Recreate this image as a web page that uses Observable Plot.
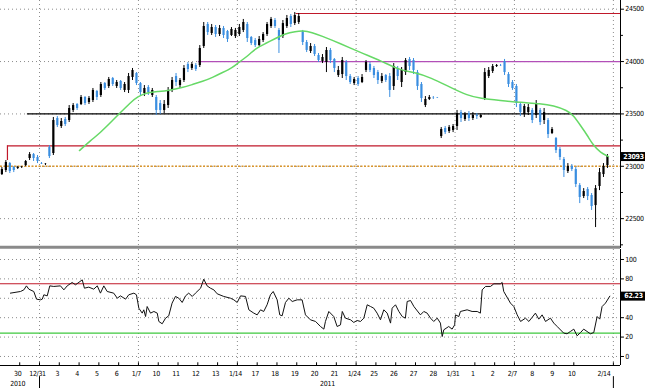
<!DOCTYPE html>
<html><head><meta charset="utf-8">
<script src="https://cdn.jsdelivr.net/npm/d3@7"></script>
<script src="https://cdn.jsdelivr.net/npm/@observablehq/plot@0.6"></script>
<style>
html,body{margin:0;padding:0;background:#fff;}
#chart svg{display:block;}
</style></head><body><div id="chart"></div>
<script>
// ---- data (time axis: trading days since 12/31/2010) ----
const barStart = -1.9, barStep = 0.2;
const open = [22921,22960,23026,22988,22979,22988,23007,23074,23112,23084,23026,23017,23179,23122,23456,23380,23447,23437,23533,23590,23590,23657,23609,23628,23714,23676,23790,23762,23838,23762,23810,23724,23724,23848,23886,23790,23695,23752,23676,23657,23599,23533,23580,23724,23857,23771,23819,23972,23934,23962,23962,24144,24354,24268,24325,24258,24316,24287,24249,24239,24258,24297,24354,24230,24201,24153,24201,24258,24335,24392,24297,24239,24335,24430,24363,24373,24287,24182,24096,24144,24058,24001,23991,24106,24020,23867,23876,23991,23857,23790,23838,23800,23915,23972,23934,23895,23810,23867,23857,23762,23934,23800,23895,24020,24010,23895,23781,23580,23638,23657,23657,23284,23361,23332,23342,23380,23513,23447,23504,23456,23485,23466,23647,23857,23905,23953,23962,24001,23876,23800,23762,23590,23494,23513,23533,23485,23533,23437,23437,23313,23265,23160,23065,22950,22998,22969,22816,22711,22778,22721,22625,22807,22921,23007];
const high = [22988,23055,23036,22998,22998,22998,23055,23131,23122,23103,23036,23026,23198,23466,23475,23456,23466,23580,23599,23599,23676,23666,23666,23743,23724,23800,23800,23848,23848,23819,23819,23800,23886,23934,23895,23800,23771,23771,23743,23676,23628,23628,23752,23848,23886,23838,23962,23991,23991,23981,24153,24373,24373,24354,24344,24344,24335,24297,24325,24316,24354,24402,24373,24239,24220,24239,24277,24373,24421,24411,24316,24392,24440,24449,24468,24459,24297,24201,24172,24163,24077,24067,24134,24125,24029,23953,24039,24010,23876,23848,23857,23876,24010,23991,23953,23915,23886,23876,23886,23981,23953,23943,24029,24039,24029,23915,23800,23666,23676,23666,23657,23370,23380,23389,23399,23533,23533,23513,23523,23513,23504,23494,23934,23943,23972,23972,23972,24020,23895,23819,23781,23609,23590,23590,23552,23628,23552,23552,23456,23370,23275,23179,23084,23026,23017,22988,22835,22787,22797,22740,22816,22979,23026,23112];
const low = [22912,22940,22931,22940,22969,22979,22998,23055,23046,23026,23017,23007,23074,23103,23370,23361,23380,23418,23513,23533,23580,23580,23590,23609,23628,23657,23724,23743,23762,23743,23724,23704,23695,23819,23771,23676,23666,23676,23657,23485,23494,23504,23552,23704,23762,23743,23800,23895,23915,23905,23943,24125,24249,24249,24230,24239,24220,24182,24239,24220,24239,24277,24182,24153,24134,24144,24182,24239,24316,24316,24077,24220,24316,24325,24344,24354,24153,24086,24077,24048,23991,23981,23895,23981,23895,23848,23838,23819,23781,23771,23762,23790,23895,23895,23838,23781,23790,23800,23657,23724,23819,23752,23867,23915,23876,23724,23609,23561,23628,23638,23647,23265,23303,23313,23322,23342,23418,23428,23428,23437,23447,23456,23628,23838,23886,23943,23953,23867,23752,23724,23561,23475,23466,23485,23408,23456,23389,23399,23265,23303,23122,23055,22893,22931,22950,22797,22644,22692,22673,22578,22415,22768,22893,22979];
const close = [22969,23036,22950,22960,22988,22990,23046,23112,23074,23046,23022,23020,23093,23437,23389,23428,23399,23552,23580,23552,23657,23599,23647,23724,23657,23781,23743,23829,23781,23800,23743,23781,23857,23915,23790,23704,23743,23704,23724,23533,23533,23590,23724,23819,23800,23819,23934,23924,23972,23924,24125,24335,24277,24325,24258,24316,24249,24211,24306,24297,24325,24373,24220,24172,24153,24211,24258,24354,24402,24335,24201,24363,24411,24354,24440,24430,24182,24106,24144,24067,24010,24039,24106,24010,23934,23915,24010,23857,23800,23829,23781,23848,23991,23915,23867,23819,23857,23819,23724,23953,23857,23915,24010,23953,23915,23762,23647,23638,23657,23655,23655,23351,23322,23370,23380,23504,23456,23494,23456,23485,23475,23485,23895,23915,23953,23962,23960,23895,23781,23743,23599,23513,23571,23561,23437,23599,23418,23513,23303,23351,23150,23084,22960,22998,22969,22826,22702,22759,22711,22616,22787,22940,22998,23093];
const maT = [2.02,2.58,3.08,3.59,4.09,4.60,4.95,5.46,5.96,6.52,7.23,7.73,8.24,8.74,9.25,9.75,10.06,10.56,10.91,11.42,11.92,12.43,12.94,13.29,13.79,14.20,15.21,16.22,17.23,18.24,19.00,19.76,20.77,21.63,22.28,23.29,24.31,25.32,25.97,26.68,26.98,27.34,27.69,27.99,28.35,28.75];
const maV = [23150,23246,23322,23418,23513,23609,23666,23704,23714,23724,23752,23781,23810,23848,23895,23943,23991,24058,24125,24172,24220,24268,24287,24297,24277,24249,24172,24086,24010,23915,23895,23848,23752,23676,23647,23628,23609,23599,23580,23533,23485,23389,23294,23198,23131,23093];
const rsiT = [-1.47,-0.96,-0.79,-0.66,-0.54,-0.29,-0.15,0.05,0.14,0.22,0.39,0.52,0.72,1.06,1.23,1.40,1.65,1.82,2.16,2.27,2.49,2.74,2.92,3.08,3.25,3.42,3.75,3.93,4.09,4.35,4.51,4.77,4.90,5.02,5.19,5.27,5.36,5.44,5.61,5.78,5.95,6.03,6.20,6.37,6.53,6.70,6.87,7.04,7.21,7.38,7.54,7.72,7.88,8.14,8.30,8.47,8.64,8.81,8.98,9.31,9.65,9.82,9.99,10.16,10.41,10.58,10.83,11.00,11.17,11.33,11.50,11.67,11.81,12.01,12.14,12.26,12.43,12.60,12.77,13.02,13.27,13.44,13.69,13.95,14.20,14.37,14.45,14.62,14.87,15.04,15.21,15.30,15.46,15.72,15.88,16.05,16.22,16.39,16.56,16.73,16.89,17.06,17.23,17.40,17.57,17.74,17.82,17.99,18.16,18.33,18.49,18.58,18.75,18.92,19.25,19.42,19.59,19.76,19.92,20.10,20.26,20.35,20.43,20.68,20.85,20.98,21.02,21.19,21.27,21.61,21.86,22.12,22.28,22.37,22.54,22.79,22.96,23.29,23.38,23.46,23.80,23.97,24.14,24.31,24.56,24.73,24.90,25.06,25.23,25.40,25.57,25.82,25.99,26.16,26.49,26.66,26.83,27.00,27.17,27.34,27.50,27.67,27.84,28.01,28.18,28.31,28.43,28.60,28.82];
const rsiV = [65.3,67.0,68.7,72.8,69.4,67.0,59.1,58.4,59.1,63.6,62.5,72.8,72.2,72.8,68.7,72.8,76.3,73.9,79.0,70.4,71.5,69.4,72.8,65.3,72.8,67.0,65.3,60.1,62.5,59.1,63.6,65.3,63.6,49.8,44.7,48.1,41.2,51.5,44.7,46.4,44.7,36.1,33.7,39.5,41.9,55.0,61.9,60.1,55.7,62.5,65.3,61.9,65.3,70.4,79.7,72.8,70.4,68.7,64.6,61.9,60.1,58.4,55.7,62.5,61.9,48.1,44.7,42.9,48.1,46.4,53.3,63.6,67.0,58.4,42.9,41.9,55.7,60.1,56.7,58.4,58.4,42.9,37.8,36.1,30.9,28.2,36.1,46.4,41.2,30.9,32.6,46.4,39.5,37.8,35.1,37.1,36.1,39.5,53.3,51.5,49.8,44.7,37.8,48.1,44.7,34.4,49.8,53.3,46.4,41.2,39.5,56.7,57.7,51.5,42.9,46.4,44.7,39.5,36.1,39.5,34.4,20.6,27.5,30.9,28.2,32.6,42.9,41.2,46.4,48.1,46.4,46.4,44.7,68.7,72.2,72.2,74.9,74.9,76.3,67.0,55.0,51.5,42.9,36.1,39.5,36.1,40.5,44.7,38.5,42.9,36.1,39.5,34.4,30.9,24.1,23.4,25.8,28.2,21.3,24.7,28.2,25.8,23.4,24.7,41.2,38.5,51.5,55.0,62.2];
const dayLabels = ["30","12/31","3","4","5","6","1/7","10","11","12","13","1/14","17","18","19","20","21","1/24","25","26","27","28","1/31","1","2","2/7","8","9","10","2/14"];
const dayPos = [-1,0,1,2,3,4,5,6,7,8,9,10,11,12,13,14,15,16,17,18,19,20,21,22,23,24,25,26,27,29];
const yearLabels = ["2010","2011"];
const yearPos = [-1.1, 14.55];
const yearBreaks = [0, 29];
const weekStarts = [0,5,10,16,21,24,29];
const priceTicks = [22500,23000,23500,24000,24500];
const priceMinor = [22250,22750,23250,23750,24250];
const rsiTicks = [0,20,40,60,80,100];
const rsiTickLabels = [0,20,40,80,100]; // 60 sits under the value box
const lastPrice = 23093, lastRsi = 62.23;
const levelHigh = 24459, levelHighFrom = 12.97;
const level24000 = 24000, level24000From = 8.03;
const level23500 = 23500, level23500From = -0.61;
const levelLow = 23194, levelLowFrom = -1.62, levelLowFoot = 23055;
const level23000 = 23000;
const rsiUpper = 75, rsiLower = 24;

// ---- build ----
const xMin = -1.971, xMax = 29.36;
const BLUE = "#3a8ee0", RED = "#c0182a", GRID = "#8c8c8c";
const font = {fontFamily: "'DejaVu Sans Condensed','Liberation Sans Narrow',sans-serif", fontSize: "7px", letterSpacing: "-0.3px", background: "white", overflow: "visible"};
const bars = open.map((o, i) => ({t: barStart + barStep * i, o, h: high[i], l: low[i], c: close[i]}));
const ma = maT.map((t, i) => ({t, v: maV[i]}));
const rsi = rsiT.map((t, i) => ({t, v: rsiV[i]}));
const barColor = d => d.c >= d.o ? "#000" : BLUE;

const main = Plot.plot({
  width: 645, height: 248, marginLeft: 0, marginRight: 25, marginTop: 0, marginBottom: 0,
  x: {domain: [xMin, xMax], axis: null},
  y: {domain: [22215, 24583], axis: null},
  style: font,
  marks: [
    Plot.ruleY(priceTicks, {x1: xMin, x2: xMax, stroke: GRID, strokeDasharray: "1,3"}),
    Plot.ruleX(weekStarts, {stroke: GRID, strokeDasharray: "1,3"}),
    Plot.ruleY([level23000], {x1: xMin, x2: xMax, stroke: "#d9962e", strokeWidth: 1.5, strokeDasharray: "2,1.5"}),
    Plot.ruleY([levelLow], {x1: levelLowFrom, x2: xMax, stroke: RED, strokeWidth: 1.2}),
    Plot.ruleX([levelLowFrom], {y1: levelLowFoot, y2: levelLow, stroke: RED, strokeWidth: 1.2}),
    Plot.ruleY([level23500], {x1: level23500From, x2: xMax, stroke: "#000", strokeWidth: 1.3}),
    Plot.ruleY([level24000], {x1: level24000From, x2: xMax, stroke: "#b24fb8", strokeWidth: 1.2}),
    Plot.ruleY([levelHigh], {x1: levelHighFrom, x2: xMax, stroke: RED, strokeWidth: 1.2}),
    Plot.ruleX(bars, {x: "t", y1: "l", y2: "h", stroke: barColor, strokeWidth: 1}),
    Plot.ruleX(bars, {x: "t", y1: "o", y2: "c", stroke: barColor, strokeWidth: 2.2}),
    Plot.line(ma, {x: "t", y: "v", stroke: "#66d966", strokeWidth: 1.5, curve: "basis"}),
    Plot.ruleY([22227], {x1: xMin, x2: xMax, stroke: "#8a8a8a", strokeWidth: 3}),
    Plot.ruleX([xMax], {stroke: "#000"}),
    Plot.ruleY(priceTicks, {x1: xMax, x2: xMax + 0.2, stroke: "#000"}),
    Plot.ruleY(priceMinor, {x1: xMax, x2: xMax + 0.15, stroke: "#000"}),
    Plot.text(priceTicks, {x: () => xMax + 0.24, y: d => d, text: d => String(d), textAnchor: "start", fill: "#000"}),
    Plot.ruleY([lastPrice], {x1: xMax + 0.05, x2: xMax + 1.27, stroke: "#000", strokeWidth: 9}),
    Plot.text([lastPrice], {x: () => xMax + 0.66, y: d => d, text: d => String(d), fill: "#fff", fontWeight: "bold", fontSize: 7})
  ]
});

const rsiPlot = Plot.plot({
  width: 645, height: 140, marginLeft: 0, marginRight: 25, marginTop: 1, marginBottom: 23,
  x: {domain: [xMin, xMax], axis: null},
  y: {domain: [-9.3, 110.3], axis: null},
  style: font,
  marks: [
    Plot.ruleY(rsiTicks, {x1: xMin, x2: xMax, stroke: GRID, strokeDasharray: "1,3"}),
    Plot.ruleX(weekStarts, {stroke: GRID, strokeDasharray: "1,3"}),
    Plot.ruleY([rsiUpper], {x1: xMin, x2: xMax, stroke: RED, strokeWidth: 1.2}),
    Plot.ruleY([rsiLower], {x1: xMin, x2: xMax, stroke: "#3ec83e", strokeWidth: 1.2}),
    Plot.line(rsi, {x: "t", y: "v", stroke: "#111", strokeWidth: 1}),
    Plot.ruleY([-9.3], {x1: xMin, x2: xMax, stroke: "#000"}),
    Plot.ruleX(dayPos, {y1: -9.3, y2: -6.5, stroke: "#000"}),
    Plot.ruleX([xMax], {y1: -9.3, y2: 110.3, stroke: "#000"}),
    Plot.ruleY(rsiTicks, {x1: xMax, x2: xMax + 0.2, stroke: "#000"}),
    Plot.text(rsiTickLabels, {x: () => xMax + 0.24, y: d => d, text: d => String(d), textAnchor: "start", fill: "#000"}),
    Plot.ruleY([lastRsi], {x1: xMax + 0.05, x2: xMax + 1.27, stroke: "#000", strokeWidth: 9}),
    Plot.text([lastRsi], {x: () => xMax + 0.66, y: d => d, text: d => d.toFixed(2), fill: "#fff", fontWeight: "bold", fontSize: 7}),
    Plot.text(dayPos.slice(0, -1), {x: d => d, y: () => -17.6, text: (d, i) => dayLabels[i], dx: -2, fill: "#000"}),
    Plot.text(dayPos.slice(-1), {x: d => d, y: () => -17.6, text: () => dayLabels[dayLabels.length - 1], dx: -3, textAnchor: "end", fill: "#000"}),
    Plot.text(yearPos, {x: d => d, y: () => -28, text: (d, i) => yearLabels[i], fill: "#000"}),
    Plot.ruleX(yearBreaks, {y1: -20.8, y2: -33.5, stroke: "#000"})
  ]
});

const root = document.getElementById("chart");
root.appendChild(main);
root.appendChild(rsiPlot);
</script>
</body></html>
